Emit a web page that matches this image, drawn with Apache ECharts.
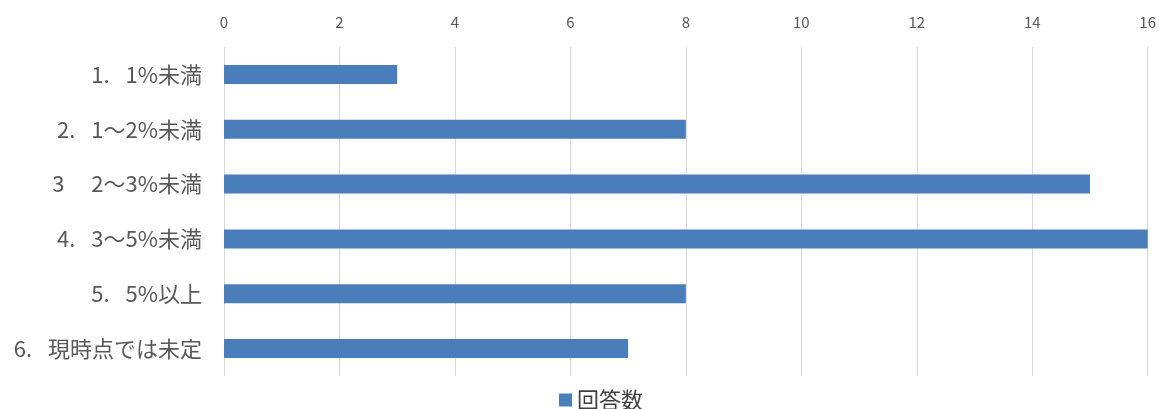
<!DOCTYPE html>
<html>
<head>
<meta charset="utf-8">
<script src="https://cdn.jsdelivr.net/npm/echarts@6/dist/echarts.min.js"></script>
<style>
  html, body { margin: 0; padding: 0; background: #fff; }
  #chart { width: 1159px; height: 409px; }
</style>
</head>
<body>
<div id="chart"></div>
<script>
// 回答カテゴリと回答数
var categories = ['1.\u2002 1%未満', '2.\u2002 1～2%未満', '3\u2002\u2002 2～3%未満', '4.\u2002 3～5%未満', '5.\u2002 5%以上', '6.\u2002 現時点では未定'];
var answerCounts = [3, 8, 15, 16, 8, 7];
var seriesName = '回答数';

var chart = echarts.init(document.getElementById('chart'));
var grayColor = '#595959';
var font = '"Noto Sans CJK JP", "Noto Sans", sans-serif';

var option = {
  color: ['#4a7ebb'],
  textStyle: { fontFamily: font },
  grid: {
    left: 224,
    right: 10,
    top: 47,
    bottom: 33
  },
  legend: {
    data: [seriesName],
    left: 554,
    top: 384,
    icon: 'rect',
    itemWidth: 13,
    itemHeight: 13,
    itemGap: 6,
    textStyle: {
      fontSize: 22,
      color: '#404040',
      fontFamily: font
    }
  },
  xAxis: {
    type: 'value',
    position: 'top',
    min: 0,
    max: 16,
    interval: 2,
    axisLabel: {
      color: grayColor,
      fontSize: 15,
      margin: 17,
      fontFamily: font
    },
    axisLine: { show: false },
    axisTick: { show: false },
    splitLine: {
      lineStyle: { color: '#d9d9d9', width: 1 }
    }
  },
  yAxis: {
    type: 'category',
    inverse: true,
    data: categories,
    axisLabel: {
      color: grayColor,
      fontSize: 22,
      margin: 22,
      fontFamily: font
    },
    axisLine: { show: false },
    axisTick: { show: false }
  },
  series: [{
    name: seriesName,
    type: 'bar',
    data: answerCounts,
    barWidth: 19,
    animation: false
  }]
};
chart.setOption(option, true);
</script>
</body>
</html>
